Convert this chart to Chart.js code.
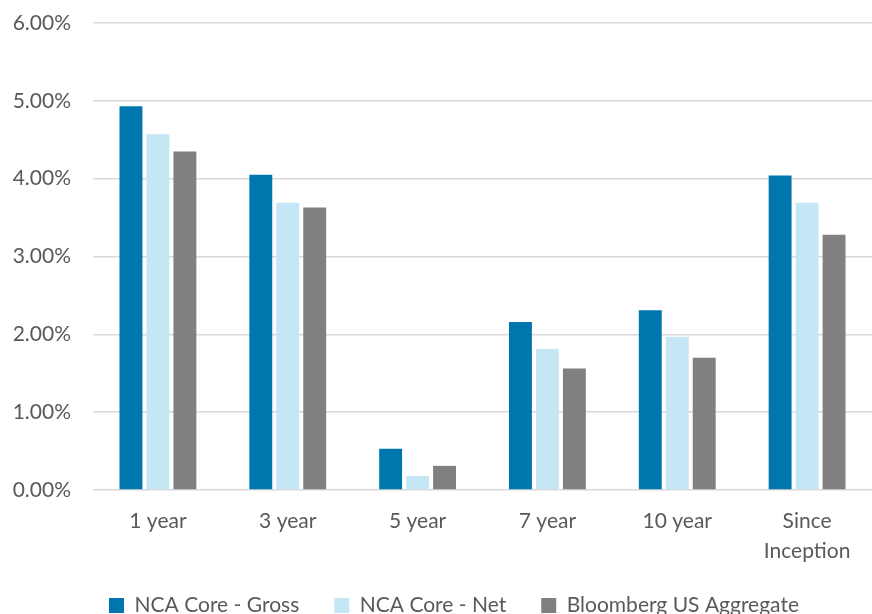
<!DOCTYPE html>
<html>
<head>
<meta charset="utf-8">
<script src="https://cdn.jsdelivr.net/npm/chart.js@4"></script>
<style>
  html, body { margin: 0; padding: 0; background: #fff; }
  #wrap { width: 872px; height: 614px; }
</style>
</head>
<body>
<div id="wrap"><canvas id="perfChart" width="872" height="614"></canvas></div>
<script>
// --- Data ---
const periods = ['1 year', '3 year', '5 year', '7 year', '10 year', ['Since', 'Inception']];
const grossReturns = [4.93, 4.05, 0.53, 2.16, 2.31, 4.04];
const netReturns = [4.57, 3.69, 0.18, 1.81, 1.97, 3.69];
const aggReturns = [4.35, 3.63, 0.31, 1.56, 1.70, 3.28];
const seriesNames = ['NCA Core - Gross', 'NCA Core - Net', 'Bloomberg US Aggregate'];
const yTicks = [0, 1, 2, 3, 4, 5, 6];

const COLORS = ['#0076ae', '#c5e6f5', '#808080'];
const FONT = 'Lato, "Noto Sans", sans-serif';
const TEXT = '#595959';

const bar = (label, data, color) => ({
  label: label,
  data: data,
  backgroundColor: color,
  borderWidth: 0,
  barPercentage: 0.85,
  categoryPercentage: 0.623,
});

// fixed legend strip at the bottom, nudged right like the original;
// let the x labels draw past their box so "Inception" is not cut
const legendFix = {
  id: 'legendFix',
  beforeLayout(chart) {
    const lg = chart.legend;
    if (lg && !lg._fixed) {
      const fit = lg.fit.bind(lg);
      lg.fit = function () { fit(); this.height = 54; };
      lg._fixed = true;
    }
  },
  afterLayout(chart) {
    chart.legend.left += 18;
    chart.legend.right += 18;
    chart.scales.x.bottom = chart.height;
  },
};

new Chart(document.getElementById('perfChart'), {
  type: 'bar',
  data: {
    labels: periods,
    datasets: [
      bar(seriesNames[0], grossReturns, COLORS[0]),
      bar(seriesNames[1], netReturns, COLORS[1]),
      bar(seriesNames[2], aggReturns, COLORS[2]),
    ],
  },
  plugins: [legendFix],
  options: {
    responsive: false,
    animation: false,
    devicePixelRatio: 1,
    layout: { padding: { top: 23, right: 0, left: 0, bottom: 0 } },
    plugins: {
      tooltip: { enabled: false },
      legend: {
        position: 'bottom',
        labels: {
          boxWidth: 15,
          boxHeight: 15,
          padding: 35,
          color: TEXT,
          font: { family: FONT, size: 21 },
        },
      },
    },
    scales: {
      x: {
        grid: { display: false, drawTicks: false },
        border: { display: false },
        ticks: {
          color: TEXT,
          padding: 16,
          maxRotation: 0,
          font: { family: FONT, size: 21, lineHeight: 1.43 },
        },
        afterFit: (s) => {
          s.height = 70;
          s.paddingLeft = 0;
          s.paddingRight = 0;
        },
      },
      y: {
        min: 0,
        max: 6,
        afterBuildTicks: (s) => { s.ticks = yTicks.map((v) => ({ value: v })); },
        grid: { color: '#d9d9d9', lineWidth: 1.5, drawTicks: false },
        border: { display: false },
        ticks: {
          color: TEXT,
          padding: 22,
          font: { family: FONT, size: 21 },
          callback: (v) => v.toFixed(2) + '%',
        },
        afterFit: (s) => {
          s.width = 93;
          s.paddingTop = 0;
          s.paddingBottom = 0;
        },
      },
    },
  },
});
</script>
</body>
</html>
